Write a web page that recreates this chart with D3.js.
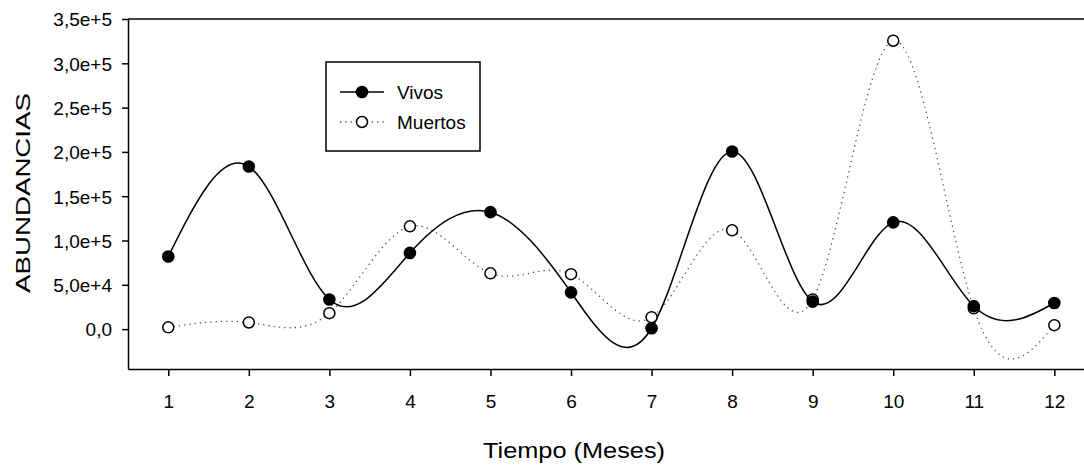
<!DOCTYPE html>
<html>
<head>
<meta charset="utf-8">
<script src="https://cdn.jsdelivr.net/npm/d3@7"></script>
<style>
body {
  margin: 0;
  background: #fff;
}
text {
  font-family: "Liberation Sans", Arial, sans-serif;
  fill: #000;
}
.axis path, .axis line {
  stroke: #000;
  stroke-width: 1.5px;
}
</style>
</head>
<body>
<div id="plot"></div>
<script>
// months on the x axis
var months = [1, 2, 3, 4, 5, 6, 7, 8, 9, 10, 11, 12];

// abundances
var vivos = [82000, 183500, 33500, 86000, 132000, 41500, 1000, 200500, 31000, 120500, 26000, 29500];
var muertos = [2000, 7500, 18000, 116000, 63000, 62000, 13500, 111500, 33500, 325500, 23500, 4500];

var yTickValues = [0, 50000, 100000, 150000, 200000, 250000, 300000, 350000];
var yTickLabels = ["0,0", "5,0e+4", "1,0e+5", "1,5e+5", "2,0e+5", "2,5e+5", "3,0e+5", "3,5e+5"];

var margin = {top: 19, right: 0, bottom: 98, left: 128};
var width = 1084, height = 467;

var x = d3.scaleLinear()
  .domain([0.5, 12.5])
  .range([margin.left, margin.left + 12 * 80.55]);

var y = d3.scaleLinear()
  .domain([-45000, 350000])
  .range([height - margin.bottom, margin.top]);

var svg = d3.select('#plot')
  .append('svg')
  .attr('width', width)
  .attr('height', height);

// y axis
var yAxis = d3.axisLeft(y)
  .tickValues(yTickValues)
  .tickFormat(function(d, i){ return yTickLabels[i]; })
  .tickSize(6)
  .tickPadding(10)
  .tickSizeOuter(0);

var gy = svg.append('g')
  .attr('class', 'y axis')
  .attr('transform', 'translate(' + margin.left + ',0)')
  .call(yAxis);
gy.selectAll('text').style('font-size', '19px').attr('dy', '0.36em');

// x axis
var xAxis = d3.axisBottom(x)
  .tickValues(months)
  .tickFormat(d3.format('d'))
  .tickSize(7)
  .tickPadding(19)
  .tickSizeOuter(0);

var gx = svg.append('g')
  .attr('class', 'x axis')
  .attr('transform', 'translate(0,' + y.range()[0] + ')')
  .call(xAxis);
gx.selectAll('text').style('font-size', '19px');

// top frame line
svg.append('line')
  .attr('x1', margin.left)
  .attr('x2', x.range()[1])
  .attr('y1', y.range()[1])
  .attr('y2', y.range()[1])
  .style('stroke', '#000')
  .style('stroke-width', 1.5);

// axis titles
svg.append('text')
  .attr('transform', 'translate(30,193) rotate(-90)')
  .attr('text-anchor', 'middle')
  .attr('textLength', 200)
  .attr('lengthAdjust', 'spacingAndGlyphs')
  .style('font-size', '21px')
  .text('ABUNDANCIAS');

svg.append('text')
  .attr('x', 574)
  .attr('y', 458)
  .attr('text-anchor', 'middle')
  .attr('textLength', 182)
  .attr('lengthAdjust', 'spacingAndGlyphs')
  .style('font-size', '22px')
  .text('Tiempo (Meses)');

// curves (natural cubic spline through the points)
var line = d3.line()
  .x(function(d, i){ return x(months[i]); })
  .y(function(d){ return y(d); })
  .curve(d3.curveNatural);

svg.append('path')
  .datum(muertos)
  .attr('d', line)
  .style('fill', 'none')
  .style('stroke', '#555')
  .style('stroke-width', 1.3)
  .style('stroke-dasharray', '1.3,4');

svg.append('path')
  .datum(vivos)
  .attr('d', line)
  .style('fill', 'none')
  .style('stroke', '#000')
  .style('stroke-width', 1.5);

svg.selectAll('.muerto')
  .data(muertos)
  .enter().append('circle')
  .attr('class', 'muerto')
  .attr('cx', function(d, i){ return x(months[i]); })
  .attr('cy', function(d){ return y(d); })
  .attr('r', 5.5)
  .style('fill', '#fff')
  .style('stroke', '#000')
  .style('stroke-width', 1.5);

svg.selectAll('.vivo')
  .data(vivos)
  .enter().append('circle')
  .attr('class', 'vivo')
  .attr('cx', function(d, i){ return x(months[i]); })
  .attr('cy', function(d){ return y(d); })
  .attr('r', 6.3)
  .style('fill', '#000');

// legend
var legend = svg.append('g').attr('transform', 'translate(326,62)');

legend.append('rect')
  .attr('width', 154)
  .attr('height', 89)
  .style('fill', '#fff')
  .style('stroke', '#000')
  .style('stroke-width', 1.5);

legend.append('line')
  .attr('x1', 14).attr('x2', 58)
  .attr('y1', 30).attr('y2', 30)
  .style('stroke', '#000')
  .style('stroke-width', 1.5);
legend.append('circle')
  .attr('cx', 36).attr('cy', 30).attr('r', 6.3)
  .style('fill', '#000');
legend.append('text')
  .attr('x', 71).attr('y', 30).attr('dy', '0.36em')
  .style('font-size', '19px')
  .text('Vivos');

legend.append('line')
  .attr('x1', 14).attr('x2', 58)
  .attr('y1', 60).attr('y2', 60)
  .style('stroke', '#555')
  .style('stroke-width', 1.3)
  .style('stroke-dasharray', '1.3,4');
legend.append('circle')
  .attr('cx', 36).attr('cy', 60).attr('r', 5.5)
  .style('fill', '#fff')
  .style('stroke', '#000')
  .style('stroke-width', 1.5);
legend.append('text')
  .attr('x', 71).attr('y', 60).attr('dy', '0.36em')
  .style('font-size', '19px')
  .text('Muertos');
</script>
</body>
</html>
